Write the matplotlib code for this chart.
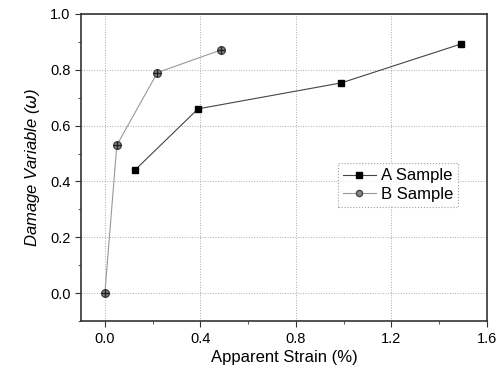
import matplotlib
matplotlib.use("Agg")
from matplotlib import pyplot as plt
from matplotlib.ticker import MultipleLocator

plt.rcParams['font.family'] = ['Liberation Sans', 'DejaVu Sans']

# data
a_strain = [0.125, 0.39, 0.99, 1.49]
a_damage = [0.44, 0.66, 0.753, 0.892]
b_strain = [0.0, 0.05, 0.22, 0.487]
b_damage = [0.0, 0.53, 0.79, 0.871]
x_ticks = [0.0, 0.4, 0.8, 1.2, 1.6]
y_ticks = [0.0, 0.2, 0.4, 0.6, 0.8, 1.0]

fig = plt.figure(figsize=(5, 3.76), dpi=100)
ax = fig.add_axes([0.162, 0.146, 0.812, 0.817])

ax.plot(a_strain, a_damage, color='#444444', lw=0.8, marker='s', ms=5,
        mfc='black', mec='black', label='A Sample')
ax.plot(b_strain, b_damage, color='#999999', lw=0.8, marker='o', ms=5.5,
        mfc='#888888', mec='#444444', label='B Sample')
# cross inside the B markers
ax.plot(b_strain, b_damage, ls='none', marker='+', ms=5.5, mew=1.0, color='#222222')

ax.set_xlim(-0.1, 1.6)
ax.set_ylim(-0.1, 1.0)
ax.set_xticks(x_ticks)
ax.set_yticks(y_ticks)
ax.xaxis.set_minor_locator(MultipleLocator(0.2))
ax.yaxis.set_minor_locator(MultipleLocator(0.1))
ax.tick_params(which='major', direction='out', length=4, labelsize=10.5, color='#333333')
ax.tick_params(which='minor', direction='out', length=2, color='#333333')
ax.grid(True, which='major', ls=':', lw=0.7, color='#aaaaaa')

for s in ax.spines.values():
    s.set_linewidth(1.2)
    s.set_color('#333333')

ax.set_xlabel('Apparent Strain (%)', fontsize=12, labelpad=3)
ax.set_ylabel('Damage Variable ($\\omega$)', fontsize=12, style='italic', labelpad=6)

leg = ax.legend(loc='center right', bbox_to_anchor=(0.95, 0.443), fontsize=12,
                frameon=True, fancybox=False, handlelength=2.0, borderpad=0.3,
                labelspacing=0.2, handletextpad=0.3, markerscale=0.8)
leg.get_frame().set_linestyle(':')
leg.get_frame().set_edgecolor('#888888')
leg.get_frame().set_linewidth(0.8)

fig.savefig('out.png', dpi=100)
